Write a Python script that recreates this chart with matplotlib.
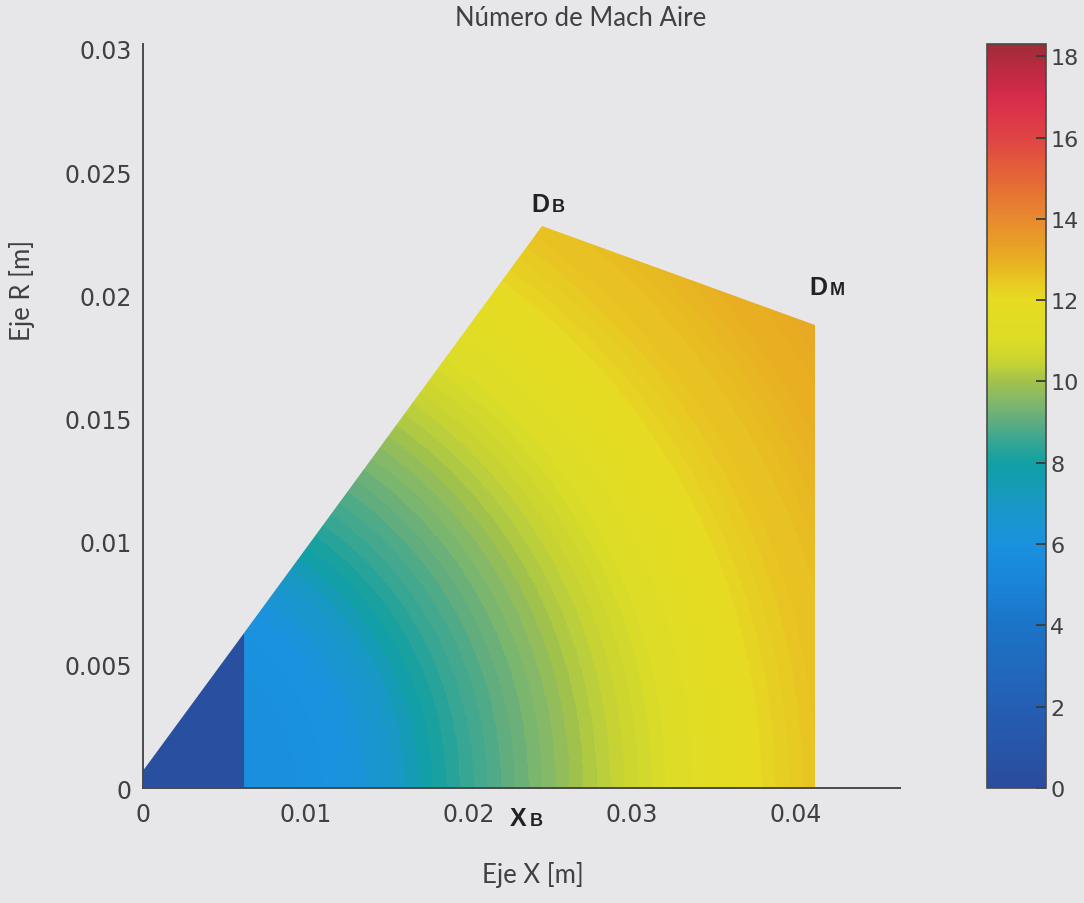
import numpy as np
import matplotlib
matplotlib.use("Agg")
import matplotlib.pyplot as plt
from matplotlib.colors import LinearSegmentedColormap, Normalize
from matplotlib.cm import ScalarMappable
from matplotlib.patches import Polygon

# ---- domain outline (axial x, radial r) in metres ----
wall_x = [0.0, 0.0, 0.0245, 0.0412, 0.0412]
wall_r = [0.0, 0.0007, 0.0228, 0.0188, 0.0]
core_x_end = 0.0062      # end of the inner (slow) zone
core_mach = 0.3

# ---- Mach number vs. radial distance from the origin ----
profile_dist = [0.0062, 0.0129, 0.0157, 0.0174, 0.0202, 0.0233, 0.0256, 0.0275,
                0.0294, 0.0311, 0.0327, 0.0343, 0.0358, 0.0373, 0.0390, 0.0405,
                0.0460, 0.0510]
profile_mach = [5.8, 6.1, 7.0, 7.9, 8.6, 9.2, 9.7, 10.2,
                10.5, 10.8, 11.2, 11.5, 11.8, 12.0, 12.3, 12.5,
                12.9, 13.2]
r_stretch = 1.5          # radial weighting of the distance
ring_start = 0.0060      # first solution ring
ring_width = 0.00084     # radial width of one solution ring

# ---- axes ticks ----
x_ticks = [0.0, 0.01, 0.02, 0.03, 0.04]
x_ticklabels = ["0", "0.01", "0.02", "0.03", "0.04"]
y_ticks = [0.0, 0.005, 0.01, 0.015, 0.02, 0.025, 0.03]
y_ticklabels = ["0", "0.005", "0.01", "0.015", "0.02", "0.025", "0.03"]
cbar_ticks = [0, 2, 4, 6, 8, 10, 12, 14, 16, 18]
mach_min, mach_max = 0.0, 18.3

# colour scale
cmap_nodes = [
    (0.0, "#2a4c9e"), (2.0, "#245fb4"), (4.0, "#1c74c8"), (5.0, "#1a84d8"),
    (6.0, "#1a92de"), (7.0, "#1898c4"), (8.0, "#12a0a4"), (8.5, "#34a594"),
    (9.0, "#5eac80"), (9.5, "#82b86a"), (10.0, "#a2c24c"), (10.5, "#c8d432"),
    (11.0, "#dcdc26"), (12.0, "#e6dc22"), (12.5, "#e8c822"), (13.0, "#e8ae22"),
    (14.0, "#e88a2e"), (15.0, "#e46836"), (16.0, "#e04444"), (17.0, "#d82c4c"),
    (17.6, "#c02a42"), (18.3, "#a02c38"),
]
cmap = LinearSegmentedColormap.from_list(
    "mach", [((v - mach_min) / (mach_max - mach_min), c) for v, c in cmap_nodes])
norm = Normalize(mach_min, mach_max)

bg = "#e7e7e9"
ink = "#404040"

fig = plt.figure(figsize=(10.84, 9.04), dpi=100, facecolor=bg)
ax_rect = [0.1319, 0.1272, 0.698, 0.823]
ax = fig.add_axes(ax_rect, facecolor=bg)
ax_w_px = ax_rect[2] * 1084
ax_h_px = ax_rect[3] * 904

# inner zone (uniform)
edge_x = [wall_x[1], wall_x[2]]
edge_r = [wall_r[1], wall_r[2]]
r_core = np.interp(core_x_end, edge_x, edge_r)
core = Polygon([(0, 0), (wall_x[1], wall_r[1]), (core_x_end, r_core), (core_x_end, 0)],
               closed=True, facecolor=cmap(norm(core_mach)), edgecolor="none", zorder=2)
ax.add_patch(core)

# outer zone: Mach field on concentric rings, clipped to the wall outline
gx = np.linspace(core_x_end, max(wall_x), 800)
gr = np.linspace(0, max(wall_r) + 0.0005, 600)
GX, GR = np.meshgrid(gx, gr)
dist = np.hypot(GX, GR * r_stretch)
ring_mid = ring_start + (np.floor((dist - ring_start) / ring_width) + 0.5) * ring_width
mach = np.interp(ring_mid, profile_dist, profile_mach)
mesh = ax.pcolormesh(gx, gr, mach, cmap=cmap, norm=norm, shading="nearest", zorder=1)
clip = Polygon([(core_x_end, 0), (core_x_end, r_core), (wall_x[2], wall_r[2]),
                (wall_x[3], wall_r[3]), (wall_x[4], wall_r[4])],
               closed=True, facecolor="none", edgecolor="none", transform=ax.transData)
ax.add_patch(clip)
mesh.set_clip_path(clip)

ax.set_xlim(0, 0.0464)
ax.set_ylim(0, 0.0302)
for s in ("top", "right"):
    ax.spines[s].set_visible(False)
for s in ("left", "bottom"):
    ax.spines[s].set_color("#4a4a4a")
    ax.spines[s].set_linewidth(1.4)
    ax.spines[s].set_zorder(5)

tick_font = dict(family="DejaVu Sans", size=17, color=ink)
ax.set_xticks(x_ticks)
ax.set_xticklabels(x_ticklabels, **tick_font)
ax.set_yticks(y_ticks)
ax.set_yticklabels(y_ticklabels, **tick_font)
ax.tick_params(axis="x", length=0, pad=10)
ax.tick_params(axis="y", length=0, pad=8)

ax.set_title("Número de Mach Aire", family="Lato", fontsize=18.5, color=ink,
             x=(581 - 143) / ax_w_px, y=(789 - 27) / ax_h_px, va="center")
ax.set_xlabel("Eje X [m]", family="Lato", fontsize=18.5, color=ink)
ax.set_ylabel("Eje R [m]", family="Lato", fontsize=18.5, color=ink)
ax.xaxis.label.set_va("center")
ax.yaxis.label.set_va("center")
ax.xaxis.set_label_coords((533 - 143) / ax_w_px, -(875 - 789) / ax_h_px)
ax.yaxis.set_label_coords(-(143 - 22) / ax_w_px, (789 - 290) / ax_h_px)

# point labels (D_B, D_M, X_B)
lab_font = dict(family="Liberation Sans", weight="bold", color="#222222")
def point_label(x, y, big, small):
    ax.annotate(big, xy=(x, y), xytext=(0, 0), textcoords="offset points",
                ha="left", va="baseline", fontsize=18, annotation_clip=False, **lab_font)
    ax.annotate(small, xy=(x, y), xytext=(15, 0), textcoords="offset points",
                ha="left", va="baseline", fontsize=13, annotation_clip=False, **lab_font)

point_label(0.02382, 0.02342, "D", "B")
point_label(0.04085, 0.02005, "D", "M")
point_label(0.02247, -0.00150, "X", "B")

# colour bar
cax = fig.add_axes([0.9105, 0.1272, 0.0544, 0.823])
cb = fig.colorbar(ScalarMappable(norm=norm, cmap=cmap), cax=cax)
cb.set_ticks(cbar_ticks)
cb.set_ticklabels([str(t) for t in cbar_ticks])
cb.outline.set_edgecolor("#4a4a4a")
cb.outline.set_linewidth(1.2)
cax.tick_params(direction="in", length=7, width=1.3, color="#3a3a3a", pad=3,
                labelsize=16, labelcolor=ink)
for t in cax.get_yticklabels():
    t.set_family("DejaVu Sans")

fig.savefig("out.png", dpi=100, facecolor=bg)
